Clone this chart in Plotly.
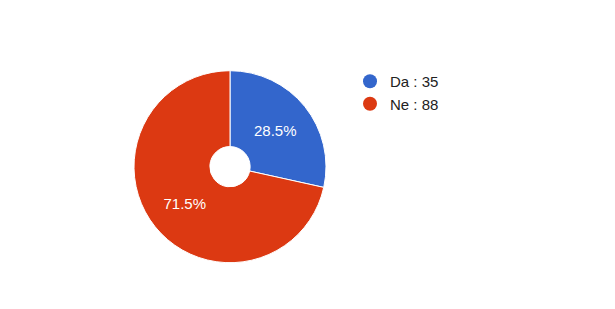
import plotly.graph_objects as go

labels = ["Da", "Ne"]
values = [35, 88]
colors = ["#3366cc", "#dc3912"]

W, H = 615, 309
cx, cy, r = 230, 166.7, 96

fig = go.Figure()
fig.add_trace(go.Pie(
    labels=labels, values=values, hole=0.21, sort=False, direction="clockwise",
    rotation=0,
    marker=dict(colors=colors, line=dict(color="white", width=1)),
    textinfo="percent", texttemplate="%{percent:.1%}",
    textposition="inside", insidetextorientation="horizontal",
    textfont=dict(color="white", size=15, family="Arial, Liberation Sans"),
    showlegend=False, hoverinfo="label+value+percent",
    domain=dict(x=[(cx - r) / W, (cx + r) / W],
                y=[(H - cy - r) / H, (H - cy + r) / H]),
))
for lab, val, col in zip(labels, values, colors):
    fig.add_trace(go.Scatter(
        x=[None], y=[None], mode="markers", name=f"{lab} : {val}",
        marker=dict(symbol="circle", size=14, color=col),
        showlegend=True,
    ))

fig.update_layout(
    width=W, height=H, margin=dict(l=0, r=0, t=0, b=0),
    paper_bgcolor="white", plot_bgcolor="white",
    xaxis=dict(visible=False), yaxis=dict(visible=False),
    font=dict(family="Arial, Liberation Sans", size=15, color="#222222"),
    legend=dict(x=350 / W, y=1 - 65 / H, xanchor="left", yanchor="top",
                itemsizing="trace", bgcolor="rgba(0,0,0,0)",
                font=dict(size=15, color="#222222")),
)
fig.write_html("out.html")
